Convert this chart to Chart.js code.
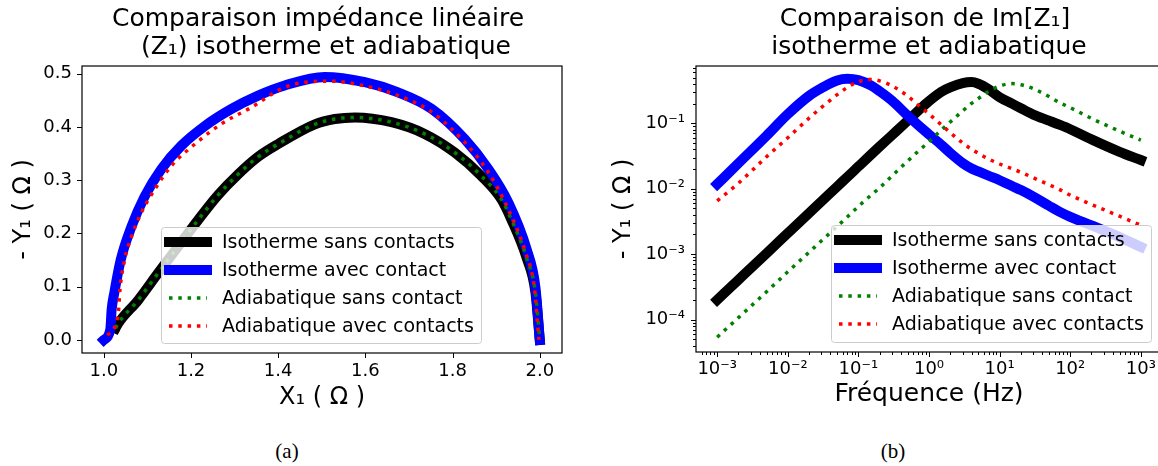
<!DOCTYPE html>
<html>
<head>
<meta charset="utf-8">
<script src="https://cdn.jsdelivr.net/npm/chart.js"></script>
<style>
html, body { margin: 0; padding: 0; background: #fff; overflow: hidden; width: 1158px; height: 466px; }
#wrapA { position: absolute; left: 0; top: 0; width: 580px; height: 420px; }
#wrapB { position: absolute; left: 580px; top: 0; width: 600px; height: 420px; }
.caption { position: absolute; top: 441px; font-family: "Liberation Serif", serif; font-size: 21px; line-height: 21px; transform: translateX(-50%); color: #000; }
</style>
</head>
<body>
<div id="wrapA"><canvas id="chartA" width="580" height="420"></canvas></div>
<div id="wrapB"><canvas id="chartB" width="600" height="420"></canvas></div>
<div class="caption" style="left:287px">(a)</div>
<div class="caption" style="left:893px">(b)</div>
<script>
// ---- (a) Nyquist: X1 vs -Y1 (ohm)
const isoSansX = [1.027, 1.033, 1.079, 1.125, 1.171, 1.217, 1.262, 1.308, 1.354, 1.400, 1.484, 1.530, 1.576, 1.660, 1.736, 1.805, 1.866, 1.912, 1.935, 1.970, 1.990, 2.000];
const isoSansY = [0.022, 0.031, 0.075, 0.126, 0.176, 0.226, 0.272, 0.311, 0.344, 0.368, 0.405, 0.415, 0.418, 0.409, 0.387, 0.352, 0.308, 0.264, 0.226, 0.154, 0.090, 0.000];

const isoAvecX = [1.000, 1.015, 1.018, 1.024, 1.039, 1.064, 1.094, 1.132, 1.178, 1.232, 1.293, 1.354, 1.415, 1.507, 1.599, 1.675, 1.752, 1.828, 1.882, 1.928, 1.970, 1.990, 2.000];
const isoAvecY = [0.000, 0.020, 0.057, 0.088, 0.151, 0.214, 0.270, 0.321, 0.365, 0.402, 0.434, 0.459, 0.478, 0.494, 0.484, 0.465, 0.434, 0.377, 0.321, 0.258, 0.170, 0.099, 0.000];

const adiaSansX = [1.027, 1.033, 1.079, 1.125, 1.171, 1.217, 1.262, 1.308, 1.354, 1.400, 1.484, 1.530, 1.576, 1.660, 1.736, 1.805, 1.866, 1.912, 1.935, 1.970, 1.990, 2.000];
const adiaSansY = [0.022, 0.031, 0.075, 0.126, 0.176, 0.226, 0.272, 0.311, 0.344, 0.368, 0.405, 0.415, 0.418, 0.409, 0.387, 0.352, 0.308, 0.264, 0.226, 0.154, 0.090, 0.000];

const adiaAvecX = [1.008, 1.024, 1.031, 1.034, 1.037, 1.048, 1.064, 1.086, 1.117, 1.155, 1.209, 1.270, 1.339, 1.408, 1.453, 1.522, 1.599, 1.675, 1.752, 1.828, 1.882, 1.928, 1.965, 1.988, 1.998];
const adiaAvecY = [0.009, 0.022, 0.039, 0.057, 0.094, 0.151, 0.195, 0.239, 0.283, 0.327, 0.368, 0.406, 0.437, 0.472, 0.483, 0.486, 0.477, 0.459, 0.428, 0.371, 0.315, 0.245, 0.170, 0.095, 0.000];

// ---- (b) Im[Z1] vs frequency
const freqHz = [0.001, 0.002, 0.005, 0.01, 0.02, 0.03, 0.05, 0.07, 0.1, 0.15, 0.2, 0.3, 0.5, 0.7, 1, 1.5, 2, 3, 4, 5, 7, 10, 15, 20, 30, 50, 70, 100, 200, 500, 1000];
const imIsoSans = [2.0e-4, 4.05e-4, 1.03e-3, 2.09e-3, 4.24e-3, 6.41e-3, 0.0108, 0.0152, 0.0219, 0.0331, 0.0442, 0.0661, 0.110, 0.155, 0.219, 0.305, 0.355, 0.412, 0.427, 0.403, 0.331, 0.251, 0.200, 0.170, 0.136, 0.110, 0.0955, 0.0813, 0.0569, 0.0367, 0.0275];
const imIsoAvec = [0.01175, 0.0245, 0.0647, 0.138, 0.263, 0.345, 0.452, 0.479, 0.457, 0.380, 0.309, 0.221, 0.131, 0.0942, 0.0676, 0.0468, 0.0353, 0.0247, 0.0204, 0.0184, 0.0158, 0.0135, 0.0110, 0.00955, 0.00759, 0.0055, 0.00447, 0.00372, 0.00275, 0.00182, 0.00129];
const imAdiaSans = [5.37e-5, 1.07e-4, 2.66e-4, 5.37e-4, 1.07e-3, 1.6e-3, 2.66e-3, 3.72e-3, 5.37e-3, 7.94e-3, 0.01035, 0.0158, 0.0266, 0.0372, 0.0525, 0.0794, 0.105, 0.155, 0.202, 0.240, 0.309, 0.372, 0.405, 0.389, 0.339, 0.257, 0.209, 0.174, 0.119, 0.0759, 0.0555];
const imAdiaAvec = [0.00653, 0.01216, 0.0308, 0.0603, 0.120, 0.175, 0.274, 0.356, 0.433, 0.470, 0.447, 0.374, 0.261, 0.191, 0.139, 0.0948, 0.0721, 0.0501, 0.0401, 0.0348, 0.0285, 0.0239, 0.0202, 0.0179, 0.0147, 0.0115, 0.00977, 0.00798, 0.00575, 0.0038, 0.00277];

const seriesLabels = ['Isotherme sans contacts', 'Isotherme avec contact', 'Adiabatique sans contact', 'Adiabatique avec contacts'];

Chart.defaults.font.family = '"DejaVu Sans", sans-serif';
Chart.defaults.color = '#000';

const SUP = { '-': '⁻', '0': '⁰', '1': '¹', '2': '²', '3': '³', '4': '⁴', '5': '⁵', '6': '⁶', '7': '⁷', '8': '⁸', '9': '⁹' };
const powLabel = (v) => {
    const l = Math.log10(v);
    const e = Math.round(l);
    if (Math.abs(l - e) > 1e-6) return '';
    return '10' + String(e).split('').map(c => SUP[c]).join('');
};

const zip = (xs, ys) => xs.map((x, i) => ({ x, y: ys[i] }));

const logMarks = (min, max) => {
    const out = [];
    for (let e = Math.floor(Math.log10(min)); e <= Math.ceil(Math.log10(max)); e++) {
        for (let k = 1; k <= 9; k++) {
            const v = k * Math.pow(10, e);
            if (v >= min && v <= max) out.push({ v, major: k === 1 });
        }
    }
    return out;
};

// frame + tick marks + matplotlib-like legend box
const axesDecor = {
    id: 'axesDecor',
    afterDraw(chart, args, o) {
        const { ctx, chartArea: a, scales } = chart;
        ctx.save();
        ctx.strokeStyle = '#000';
        ctx.lineWidth = 1;
        ['x', 'y'].forEach(id => {
            const s = scales[id];
            const marks = s.type === 'logarithmic'
                ? logMarks(s.min, s.max)
                : s.ticks.map(t => ({ v: t.value, major: true }));
            marks.forEach(m => {
                const p = Math.round(s.getPixelForValue(m.v)) + 0.5;
                const len = m.major ? 5 : 3;
                ctx.beginPath();
                if (id === 'x') { ctx.moveTo(p, a.bottom); ctx.lineTo(p, a.bottom + len); }
                else { ctx.moveTo(a.left, p); ctx.lineTo(a.left - len, p); }
                ctx.stroke();
            });
        });
        ctx.lineWidth = 1.2;
        ctx.strokeRect(a.left, a.top, a.right - a.left, a.bottom - a.top);

        // legend
        const L = o.legend;
        ctx.beginPath();
        if (ctx.roundRect) ctx.roundRect(L.left + 0.5, L.top + 0.5, L.width, L.height, 3);
        else ctx.rect(L.left + 0.5, L.top + 0.5, L.width, L.height);
        ctx.fillStyle = 'rgba(255,255,255,0.8)';
        ctx.fill();
        ctx.strokeStyle = '#cccccc';
        ctx.lineWidth = 1;
        ctx.stroke();
        ctx.font = '19px "DejaVu Sans", sans-serif';
        ctx.textBaseline = 'middle';
        ctx.textAlign = 'left';
        chart.data.datasets.forEach((ds, i) => {
            const cy = L.top + 15 + i * 28;
            ctx.save();
            ctx.strokeStyle = ds.borderColor;
            ctx.lineWidth = ds.borderWidth;
            ctx.lineCap = ds.borderCapStyle;
            ctx.setLineDash(ds.borderDash || []);
            ctx.beginPath();
            ctx.moveTo(L.left + 8, cy);
            ctx.lineTo(L.left + 46, cy);
            ctx.stroke();
            ctx.restore();
            ctx.fillStyle = '#000';
            ctx.fillText(ds.label, L.left + 61, cy + 1);
        });
        ctx.restore();
    }
};

const styles = [
    { borderColor: '#000000', borderWidth: 10, borderCapStyle: 'square', borderJoinStyle: 'round', order: 4 },
    { borderColor: '#0000ff', borderWidth: 10, borderCapStyle: 'square', borderJoinStyle: 'round', order: 3 },
    { borderColor: '#008000', borderWidth: 3.5, borderDash: [3.5, 5.8], borderCapStyle: 'butt', order: 2 },
    { borderColor: '#ff0000', borderWidth: 3.5, borderDash: [3.5, 5.8], borderCapStyle: 'butt', order: 1 }
];

const titleFont = { size: 25, weight: 'normal', lineHeight: 1.14 };

const makeDatasets = (dataList) => dataList.map((d, i) => Object.assign({
    label: seriesLabels[i],
    data: d,
    pointRadius: 0,
    fill: false,
    cubicInterpolationMode: 'monotone'
}, styles[i]));

// ---- chart (a)
new Chart(document.getElementById('chartA'), {
    type: 'line',
    data: {
        datasets: makeDatasets([
            zip(isoSansX, isoSansY),
            zip(isoAvecX, isoAvecY),
            zip(adiaSansX, adiaSansY),
            zip(adiaAvecX, adiaAvecY)
        ])
    },
    options: {
        responsive: false,
        animation: false,
        layout: { padding: { left: 0, right: 18, top: 0, bottom: 7 } },
        plugins: {
            legend: { display: false },
            tooltip: { enabled: false },
            title: {
                display: true,
                fullSize: false,
                text: ['Comparaison impédance linéaire ', ' (Z₁) isotherme et adiabatique'],
                font: titleFont,
                padding: { top: 5, bottom: 4 }
            },
            axesDecor: { legend: { left: 161, top: 227, width: 320, height: 116 } }
        },
        scales: {
            x: {
                type: 'linear',
                min: 0.95, max: 2.051,
                afterFit: s => { s.height = 60; },
                grid: { display: false, drawTicks: true, tickLength: 5 },
                border: { display: false },
                ticks: { stepSize: 0.2, includeBounds: false, padding: 3, maxRotation: 0, autoSkip: false, font: { size: 18 },
                    callback: v => (Math.abs(v) < 1e-9 ? 0 : v).toFixed(1) },
                title: { display: true, text: 'X₁ ( Ω )', font: { size: 24 }, padding: { top: 0, bottom: 1 } }
            },
            y: {
                type: 'linear',
                min: -0.0245, max: 0.5145,
                afterFit: s => { s.width = 82; },
                grid: { display: false, drawTicks: true, tickLength: 5 },
                border: { display: false },
                ticks: { stepSize: 0.1, includeBounds: false, padding: 5, autoSkip: false, font: { size: 18 },
                    callback: v => (Math.abs(v) < 1e-9 ? 0 : v).toFixed(1) },
                title: { display: true, text: '- Y₁ ( Ω )', font: { size: 24 }, padding: { top: 9, bottom: 0 } }
            }
        }
    },
    plugins: [axesDecor]
});

// ---- chart (b)
new Chart(document.getElementById('chartB'), {
    type: 'line',
    data: {
        datasets: makeDatasets([
            zip(freqHz, imIsoSans),
            zip(freqHz, imIsoAvec),
            zip(freqHz, imAdiaSans),
            zip(freqHz, imAdiaAvec)
        ])
    },
    options: {
        responsive: false,
        animation: false,
        layout: { padding: { left: 0, right: 18, top: 0, bottom: 8 } },
        plugins: {
            legend: { display: false },
            tooltip: { enabled: false },
            title: {
                display: true,
                fullSize: false,
                text: ['Comparaison de Im[Z₁] ', 'isotherme et adiabatique'],
                font: titleFont,
                padding: { top: 5, bottom: 4 }
            },
            axesDecor: { legend: { left: 251, top: 225, width: 320, height: 117 } }
        },
        scales: {
            x: {
                type: 'logarithmic',
                min: 5.01e-4, max: 1995,
                afterFit: s => { s.height = 60; },
                grid: { display: false, drawTicks: true, tickLength: 5 },
                border: { display: false },
                ticks: { padding: 2, maxRotation: 0, minRotation: 0, autoSkip: false, font: { size: 18 }, callback: powLabel },
                title: { display: true, text: 'Fréquence (Hz)', font: { size: 25 }, padding: { top: 0, bottom: 3 } }
            },
            y: {
                type: 'logarithmic',
                min: 3.19e-5, max: 0.753,
                afterFit: s => { s.width = 116; },
                grid: { display: false, drawTicks: true, tickLength: 5 },
                border: { display: false },
                ticks: { padding: 6, autoSkip: false, font: { size: 18 }, callback: powLabel },
                title: { display: true, text: '- Y₁ ( Ω )', font: { size: 24 }, padding: { top: 29, bottom: 0 } }
            }
        }
    },
    plugins: [axesDecor]
});
</script>
</body>
</html>
